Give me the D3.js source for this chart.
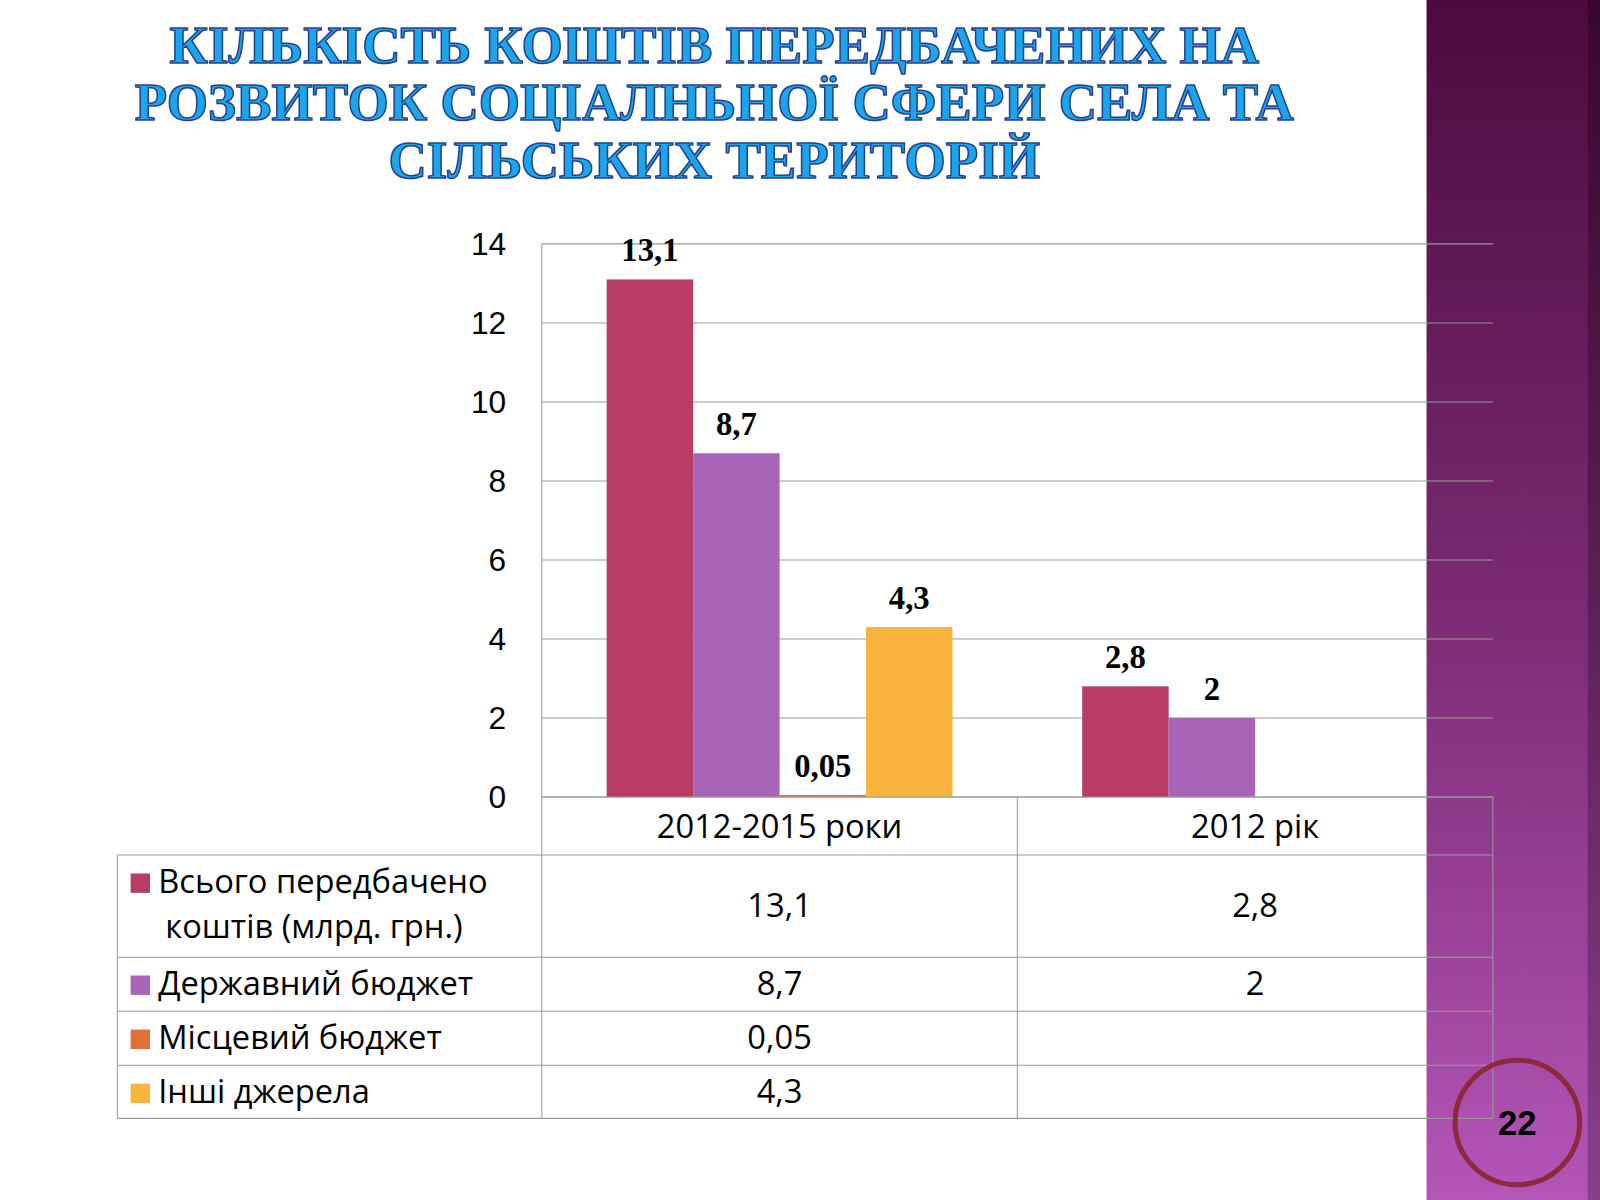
<!DOCTYPE html>
<html><head><meta charset="utf-8">
<script src="https://cdn.jsdelivr.net/npm/d3@7"></script>
<style>html,body{margin:0;padding:0;background:#fff}</style>
</head><body>
<script>
const titleLines = ['КІЛЬКІСТЬ КОШТІВ ПЕРЕДБАЧЕНИХ НА', 'РОЗВИТОК СОЦІАЛНЬНОЇ СФЕРИ СЕЛА ТА', 'СІЛЬСЬКИХ ТЕРИТОРІЙ'];
const categories = ['2012-2015 роки', '2012 рік'];
const seriesNames = ['Всього передбачено коштів (млрд. грн.)', 'Державний бюджет', 'Місцевий бюджет', 'Інші джерела'];
const seriesLabelLines = [['Всього передбачено', 'коштів (млрд. грн.)'], ['Державний бюджет'], ['Місцевий бюджет'], ['Інші джерела']];
const seriesColors = ['#b83c64', '#a865b8', '#e0703a', '#f8b43c'];
const values = [[13.1, 2.8], [8.7, 2], [0.05, null], [4.3, null]];
const valueText = [['13,1', '2,8'], ['8,7', '2'], ['0,05', ''], ['4,3', '']];
const yTicks = [0, 2, 4, 6, 8, 10, 12, 14];
const pageNumber = '22';

const svg = d3.select('body').append('svg')
  .attr('width', 1600).attr('height', 1200).attr('viewBox', '0 0 1568 1176');

// side panel
const defs = svg.append('defs');
const grad = defs.append('linearGradient').attr('id', 'pg').attr('x1', 0).attr('y1', 0).attr('x2', 0).attr('y2', 1);
grad.append('stop').attr('offset', 0).attr('stop-color', '#4c0a3e');
grad.append('stop').attr('offset', 0.5).attr('stop-color', '#7a2a72');
grad.append('stop').attr('offset', 1).attr('stop-color', '#b455b8');
svg.append('rect').attr('x', 1398).attr('y', 0).attr('width', 170).attr('height', 1176).attr('fill', 'url(#pg)');
svg.append('rect').attr('x', 1556).attr('y', 0).attr('width', 12).attr('height', 1176).attr('fill', '#000').attr('opacity', 0.25);

// title
svg.append('g').selectAll('text').data(titleLines).join('text')
  .attr('x', 700).attr('y', (d, i) => 62 + i * 56)
  .attr('text-anchor', 'middle')
  .attr('font-family', 'Liberation Serif').attr('font-weight', 'bold').attr('font-size', 52)
  .attr('fill', '#1ba6ea').attr('stroke', '#27408e').attr('stroke-width', 1.5)
  .text(d => d);

const x0 = 531, x1 = 1463, yTop = 239, yBot = 781;
const x = d3.scaleBand().domain(categories).range([x0, x1]);
const xs = d3.scaleBand().domain(seriesNames).range([0, x.bandwidth()]).paddingInner(0).paddingOuter(0.75);
const y = d3.scaleLinear().domain([0, 14]).range([yBot, yTop]);

// grid
svg.append('g').selectAll('line').data(yTicks).join('line')
  .attr('x1', x0).attr('x2', x1).attr('y1', d => y(d)).attr('y2', d => y(d))
  .attr('stroke', '#9a9a9a').attr('stroke-width', 1);
svg.append('line').attr('x1', x0).attr('x2', x0).attr('y1', yTop).attr('y2', yBot).attr('stroke', '#9a9a9a');

const yAxis = svg.append('g').attr('transform', `translate(${x0 - 32},0)`)
  .call(d3.axisLeft(y).tickValues(yTicks).tickSize(0));
yAxis.select('.domain').remove();
yAxis.selectAll('text').attr('font-family', 'Liberation Sans').attr('font-size', 31).attr('fill', '#000');

// bars
seriesNames.forEach((s, si) => {
  const g = svg.append('g');
  const data = categories.map((c, ci) => ({c, v: values[si][ci], t: valueText[si][ci]})).filter(d => d.v != null);
  g.selectAll('rect').data(data).join('rect')
    .attr('x', d => x(d.c) + xs(s)).attr('width', xs.bandwidth())
    .attr('y', d => y(d.v)).attr('height', d => yBot - y(d.v))
    .attr('fill', seriesColors[si]);
  g.selectAll('text').data(data).join('text')
    .attr('x', d => x(d.c) + xs(s) + xs.bandwidth() / 2).attr('y', d => y(d.v) - 18)
    .attr('text-anchor', 'middle')
    .attr('font-family', 'Liberation Serif').attr('font-weight', 'bold').attr('font-size', 32)
    .text(d => d.t);
});

// data table
const rowTops = [781, 838, 938, 991, 1044, 1096];
const tbl = svg.append('g').attr('stroke', '#9a9a9a').attr('stroke-width', 1);
tbl.append('line').attr('x1', x0).attr('x2', x1).attr('y1', rowTops[0]).attr('y2', rowTops[0]);
rowTops.slice(1).forEach(yy => tbl.append('line').attr('x1', 115).attr('x2', x1).attr('y1', yy).attr('y2', yy));
tbl.append('line').attr('x1', 115).attr('x2', 115).attr('y1', rowTops[1]).attr('y2', rowTops[5]);
[x0, x0 + x.bandwidth(), x1].forEach(xx => tbl.append('line').attr('x1', xx).attr('x2', xx).attr('y1', rowTops[0]).attr('y2', rowTops[5]));

const tf = 'Open Sans';
svg.append('g').selectAll('text').data(categories).join('text')
  .attr('x', d => x(d) + x.bandwidth() / 2).attr('y', 821).attr('text-anchor', 'middle')
  .attr('font-family', tf).attr('font-size', 32).text(d => d);

seriesNames.forEach((s, si) => {
  const top = rowTops[si + 1], bot = rowTops[si + 2], mid = (top + bot) / 2;
  const lines = seriesLabelLines[si];
  svg.append('rect').attr('x', 128).attr('y', top + 18).attr('width', 19).attr('height', 19).attr('fill', seriesColors[si]);
  lines.forEach((l, li) => svg.append('text')
    .attr('x', li === 0 ? 155 : 162).attr('y', top + 37 + li * 44)
    .attr('font-family', tf).attr('font-size', 32).text(l));
  categories.forEach((c, ci) => {
    if (!valueText[si][ci]) return;
    svg.append('text').attr('x', x(c) + x.bandwidth() / 2).attr('y', mid + 11)
      .attr('text-anchor', 'middle').attr('font-family', tf).attr('font-size', 32).text(valueText[si][ci]);
  });
});

// page number
svg.append('circle').attr('cx', 1487).attr('cy', 1100).attr('r', 61)
  .attr('fill', 'none').attr('stroke', '#8a2a3c').attr('stroke-width', 5);
svg.append('text').attr('x', 1487).attr('y', 1112).attr('text-anchor', 'middle')
  .attr('font-family', 'Liberation Sans').attr('font-weight', 'bold').attr('font-size', 34).text(pageNumber);
</script>
</body></html>
